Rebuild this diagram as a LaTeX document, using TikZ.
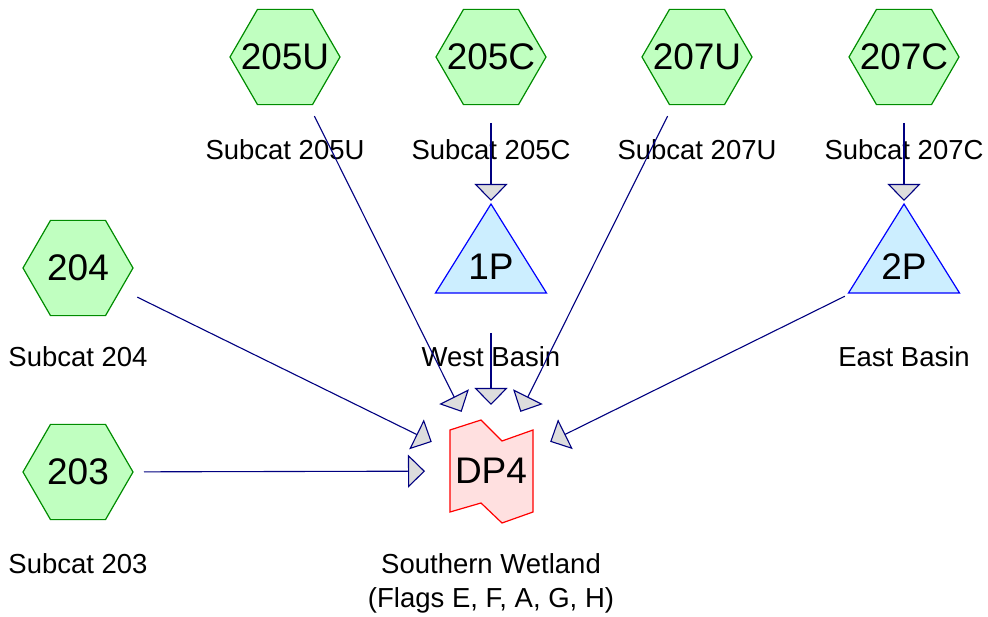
\documentclass[tikz,border=0pt]{standalone}
\usepackage{fontspec}
\setmainfont{Liberation Sans}
\usetikzlibrary{positioning,shapes.geometric,arrows.meta}
\definecolor{hexfill}{RGB}{192,255,192}
\definecolor{hexline}{RGB}{0,140,0}
\definecolor{pondfill}{RGB}{204,238,255}
\definecolor{pondline}{RGB}{0,0,255}
\definecolor{dpfill}{RGB}{255,224,224}
\definecolor{flowline}{RGB}{0,0,128}
\definecolor{tipfill}{RGB}{221,221,221}

\begin{document}
\begin{tikzpicture}[x=1pt,y=-1pt,
  bigtxt/.style={inner sep=0pt,font=\fontsize{37}{44}\selectfont},
  subcat/.style={regular polygon,regular polygon sides=6,minimum size=110pt,inner sep=0pt,
    draw=hexline,fill=hexfill,line width=1.2pt,label={[bigtxt]center:#1}},
  pond/.style={draw=pondline,fill=pondfill,line width=1.2pt},
  wetland/.style={draw=red,fill=dpfill,line width=1.2pt},
  lbl/.style={anchor=base,inner sep=0pt,align=center,font=\fontsize{27.5}{34}\selectfont},
  flow/.style={draw=flowline,line width=1.1pt,shorten <=66pt,shorten >=66pt,
    -{Triangle[length=17pt,width=33pt,fill=tipfill]}}]
\useasboundingbox (0,0) rectangle (988,617);

%---------------------Subcatchments------------------%
\node[subcat=205U] (s205U) at (285,57) {};
\node[subcat=205C] (s205C) at (491,57) {};
\node[subcat=207U] (s207U) at (697,57) {};
\node[subcat=207C] (s207C) at (904,57) {};
\node[subcat=204] (s204) at (78,268) {};
\node[subcat=203] (s203) at (78,472) {};

\node[lbl] at (285,160) {Subcat 205U};
\node[lbl] at (491,160) {Subcat 205C};
\node[lbl] at (697,160) {Subcat 207U};
\node[lbl] at (904,160) {Subcat 207C};
\node[lbl] at (78,367) {Subcat 204};
\node[lbl] at (78,573) {Subcat 203};

%---------------------Ponds------------------%
\draw[pond] (491,204) -- (546.5,293) -- (435.5,293) -- cycle;
\node[bigtxt] (p1) at (491,267) {1P};
\draw[pond] (904,204) -- (959.5,293) -- (848.5,293) -- cycle;
\node[bigtxt] (p2) at (904,267) {2P};

\node[lbl] at (491,367) {West Basin};
\node[lbl] at (904,367) {East Basin};

%---------------------Design point------------------%
\draw[wetland] (450,430) -- (481,420) -- (502,441) -- (533,430) -- (533,512)
  -- (502,523) -- (481,503) -- (450,512) -- cycle;
\node[bigtxt] (dp4) at (491,471) {DP4};
\node[lbl] at (491,607) {Southern Wetland\\(Flags E, F, A, G, H)};

%---------------------Flows------------------%
\draw[flow] (s205C.center) -- (p1.center);
\draw[flow] (s207C.center) -- (p2.center);
\draw[flow] (s205U.center) -- (dp4.center);
\draw[flow] (p1.center) -- (dp4.center);
\draw[flow] (s207U.center) -- (dp4.center);
\draw[flow] (s204.center) -- (dp4.center);
\draw[flow] (s203.center) -- (dp4.center);
\draw[flow] (p2.center) -- (dp4.center);
\end{tikzpicture}
\end{document}
